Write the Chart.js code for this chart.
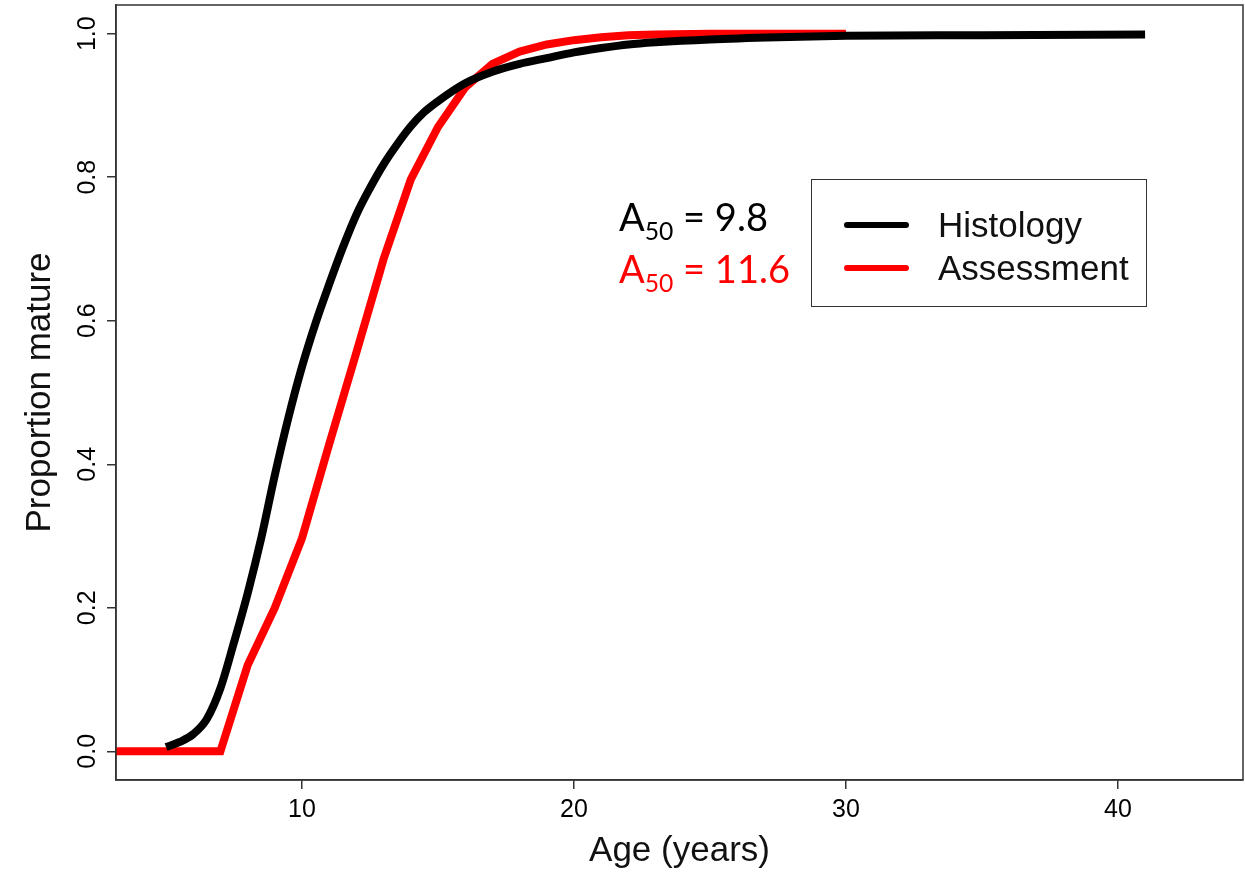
<!DOCTYPE html>
<html>
<head>
<meta charset="utf-8">
<script src="https://cdn.jsdelivr.net/npm/chart.js@4.4.0/dist/chart.umd.min.js"></script>
<style>
  body { margin: 0; background: #fff; }
  #wrap { position: relative; width: 1245px; height: 872px; }
  .a50 { position: absolute; font-family: Lato, "Noto Sans", sans-serif; font-size: 38px; line-height: 1; white-space: nowrap; }
  .a50 sub { font-size: 0.65em; vertical-align: -0.35em; line-height: 0; }
  #legend { position: absolute; left: 811px; top: 179px; width: 334px; height: 126px;
            border: 1.5px solid #333; font-family: "Liberation Sans", Arial, sans-serif; font-size: 35px; color: #111; }
  .item { position: absolute; left: 0; height: 40px; width: 100%; }
  .item .swatch { position: absolute; left: 32px; width: 65px; height: 6px; top: 17px; border-radius: 3px; }
  .item .txt { position: absolute; left: 126px; top: 0px; line-height: 40px; }
</style>
</head>
<body>
<div id="wrap">
  <canvas id="chart" width="1245" height="872"></canvas>
  <div id="legend"></div>
  <div class="a50" style="left:619px; top:197px; color:#000;">A<sub>50</sub> = 9.8</div>
  <div class="a50" style="left:619px; top:249px; color:#ff0000;">A<sub>50</sub> = 11.6</div>
</div>
<script>
// Histology curve
const histAge = [5, 5.5, 6, 6.5, 7, 7.5, 8, 8.5, 9, 9.5, 10, 10.5, 11, 11.5, 12, 12.5, 13, 13.5, 14, 14.5, 15, 16, 17, 18, 19, 20, 21, 22, 23, 25, 27.5, 30, 35, 41];
const histProp = [0.006, 0.013, 0.024, 0.045, 0.088, 0.152, 0.22, 0.297, 0.385, 0.465, 0.536, 0.597, 0.651, 0.702, 0.748, 0.785, 0.818, 0.846, 0.871, 0.891, 0.906, 0.931, 0.947, 0.958, 0.966, 0.974, 0.98, 0.985, 0.988, 0.992, 0.995, 0.997, 0.998, 0.999];

// Assessment curve
const assessAge = [3, 7, 8, 9, 10, 11, 12, 13, 14, 15, 16, 17, 18, 19, 20, 21, 22, 23, 25, 30];
const assessProp = [0, 0, 0.12, 0.2, 0.297, 0.428, 0.556, 0.686, 0.797, 0.87, 0.925, 0.958, 0.975, 0.985, 0.991, 0.995, 0.998, 0.999, 1.0, 1.0];

const seriesNames = ["Histology", "Assessment"];
const seriesColors = ["#000000", "#ff0000"];

const xTicks = [10, 20, 30, 40];
const yTicks = [0, 0.2, 0.4, 0.6, 0.8, 1.0];

const toPoints = (xs, ys) => xs.map((x, i) => ({ x: x, y: ys[i] }));

// legend in html
const legend = document.getElementById("legend");
seriesNames.forEach((name, i) => {
  const d = document.createElement("div");
  d.className = "item";
  d.style.top = (25 + i * 43) + "px";
  d.innerHTML = '<div class="swatch" style="background:' + seriesColors[i] + '"></div><div class="txt">' + name + '</div>';
  legend.appendChild(d);
});

const boxPlugin = {
  id: "box",
  afterDraw(chart) {
    const { ctx, chartArea: a } = chart;
    ctx.save();
    ctx.strokeStyle = "#333";
    ctx.lineWidth = 1.5;
    ctx.strokeRect(a.left, a.top, a.right - a.left, a.bottom - a.top);
    ctx.restore();
  }
};

const tickFont = { family: "'Liberation Sans', Arial, sans-serif", size: 25 };
const titleFont = { family: "'Liberation Sans', Arial, sans-serif", size: 35 };

new Chart(document.getElementById("chart"), {
  type: "line",
  data: {
    datasets: [
      {
        label: seriesNames[0],
        data: toPoints(histAge, histProp),
        borderColor: seriesColors[0],
        borderWidth: 8,
        pointRadius: 0,
        cubicInterpolationMode: "monotone",
        clip: 0
      },
      {
        label: seriesNames[1],
        data: toPoints(assessAge, assessProp),
        borderColor: seriesColors[1],
        borderWidth: 8,
        pointRadius: 0,
        tension: 0,
        clip: 0
      }
    ]
  },
  options: {
    responsive: false,
    animation: false,
    layout: { padding: { top: 5, right: 2, left: 0, bottom: 0 } },
    plugins: { legend: { display: false }, tooltip: { enabled: false } },
    scales: {
      x: {
        type: "linear",
        min: 3.16,
        max: 44.6,
        afterFit: (s) => { s.height = 92; s.paddingLeft = 0; s.paddingRight = 0; },
        afterBuildTicks: (s) => { s.ticks = xTicks.map(v => ({ value: v })); },
        grid: { display: true, drawOnChartArea: false, drawTicks: true, tickLength: 9, color: "#333", lineWidth: 1.5 },
        border: { display: true, color: "#333", width: 1.5 },
        ticks: { font: tickFont, color: "#000", padding: 6, maxRotation: 0 },
        title: { display: true, text: "Age (years)", font: titleFont, color: "#111", padding: { top: 0, bottom: 0 } }
      },
      y: {
        type: "linear",
        min: -0.04,
        max: 1.04,
        afterFit: (s) => { s.width = 116; s.paddingTop = 0; s.paddingBottom = 0; },
        afterBuildTicks: (s) => { s.ticks = yTicks.map(v => ({ value: v })); },
        grid: { display: true, drawOnChartArea: false, drawTicks: true, tickLength: 9, color: "#333", lineWidth: 1.5 },
        border: { display: true, color: "#333", width: 1.5 },
        ticks: { font: tickFont, color: "#000", padding: 2, minRotation: 90, maxRotation: 90, crossAlign: "center",
                 callback: (v) => Number(v).toFixed(1) },
        title: { display: true, text: "Proportion mature", font: titleFont, color: "#111", padding: { top: 19, bottom: 0 } }
      }
    }
  },
  plugins: [boxPlugin]
});
</script>
</body>
</html>
